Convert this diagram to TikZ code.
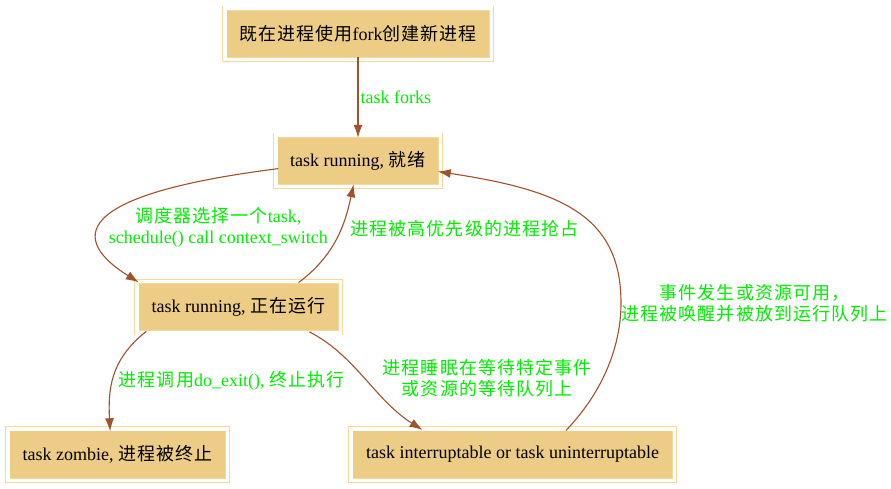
\documentclass[tikz,border=0pt]{standalone}
\usepackage{fontspec}
\setmainfont{Liberation Serif}
\newfontfamily\cjk[LetterSpace=6]{Noto Sans CJK SC}
\usepackage{tikz}
\usetikzlibrary{positioning}
\usetikzlibrary{arrows.meta}
\definecolor{boxfill}{HTML}{EDCD85}
\definecolor{boxline}{HTML}{F7D79A}
\definecolor{edgecol}{HTML}{A0522D}
\definecolor{lblgreen}{HTML}{00EE00}
\tikzset{x=1pt, y=-1pt, % one unit is one pixel of the layout, y goes down
procstate/.style={ % Sets the properties for each process state
draw=boxline,
line width=0.9pt,
double=white, double distance=3.5pt, % white gap inside the thin frame
fill=boxfill,
minimum height=51.5pt,
inner sep=0pt,
font=\fontsize{18}{21}\selectfont},
flow/.style={ % Sets the properties for each transition
draw=edgecol,
line width=1.1pt,
-{Latex[length=13pt,width=9pt]},
shorten >=-3pt, shorten <=-3pt},
flowlabel/.style={ % green text on the transitions
text=lblgreen,
inner sep=2pt,
align=center,
font=\fontsize{18}{21}\selectfont}}

\begin{document}
\begin{tikzpicture}
	\useasboundingbox[fill=white] (0,0) rectangle (891,489);

	\node[procstate, minimum width=266.5pt] (fork) at (358,34) {{\cjk 既在进程使用}fork{\cjk 创建新进程}};
	\node[procstate, minimum width=164.5pt] (ready) at (358,161) {task running, {\cjk 就绪}};
	\node[procstate, minimum width=203.5pt] (run) at (238.5,307) {task running, {\cjk 正在运行}};
	\node[procstate, minimum width=219.5pt] (zombie) at (117.5,454.5) {task zombie, {\cjk 进程被终止}};
	\node[procstate, minimum width=323.5pt] (sleep) at (512.5,454.5) {task interruptable or task uninterruptable};

	\draw[flow] (fork) -- (ready) node[midway, right, flowlabel] {task forks};

	% ready <-> running
	\draw[flow] ([yshift=-8pt]ready.west) .. controls (30,200) and (95,255) .. (run.north west)
		node[pos=.5, right=8pt, flowlabel] {{\cjk 调度器选择一个}task,\\schedule() call context\_switch};
	\draw[flow] ([xshift=62.5pt]run.north) .. controls (335,255) and (345,225) .. ([xshift=-5pt]ready.south)
		node[pos=.6, right=7pt, flowlabel] {\cjk 进程被高优先级的进程抢占};

	% leaving running
	\draw[flow] ([xshift=-94.5pt]run.south) .. controls (110,360) and (108,390) .. ([xshift=-7.5pt]zombie.north)
		node[pos=.55, right=4pt, flowlabel] {{\cjk 进程调用}do\_exit(), {\cjk 终止执行}};
	\draw[flow] ([xshift=73.5pt]run.south) .. controls (355,355) and (375,400) .. ([xshift=-92.5pt]sleep.north)
		node[pos=.5, right=15pt, flowlabel] {\cjk 进程睡眠在等待特定事件\\\cjk 或资源的等待队列上};

	% wake up
	\draw[flow] ([xshift=55.5pt]sleep.north) .. controls (600,395) and (621,350) .. (621,303)
		node[right=-2pt, flowlabel] {\cjk 事件发生或资源可用，\\\cjk 进程被唤醒并被放到运行队列上}
		.. controls (621,215) and (560,190) .. ([yshift=-11pt]ready.east);
\end{tikzpicture}
\end{document}
